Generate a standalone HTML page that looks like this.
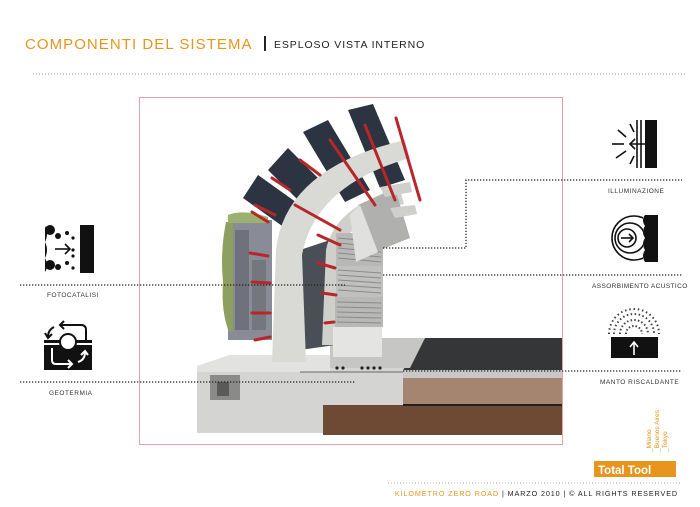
<!DOCTYPE html>
<html><head><meta charset="utf-8"><style>
html,body{margin:0;padding:0;background:#fff;}
body{width:700px;height:507px;overflow:hidden;position:relative;font-family:"Liberation Sans",sans-serif;}
svg{position:absolute;left:0;top:0}
</style></head><body>
<svg width="700" height="507" viewBox="0 0 700 507" xmlns="http://www.w3.org/2000/svg" font-family="Liberation Sans, sans-serif">
<defs><clipPath id="cl"><rect x="600" y="205" width="43" height="70"/></clipPath></defs>
<!-- header -->
<text x="25" y="49" font-size="15" fill="#e8951e" letter-spacing="1.05">COMPONENTI DEL SISTEMA</text>
<rect x="264" y="36" width="2" height="15" fill="#222"/>
<text x="274" y="48" font-size="10.5" fill="#222" letter-spacing="0.9">ESPLOSO VISTA INTERNO</text>
<line x1="33" y1="74" x2="686" y2="74" stroke="#999" stroke-width="1" stroke-dasharray="1,2"/>

<!-- frame -->
<rect x="139.5" y="97.5" width="423" height="347" fill="none" stroke="#e8a0a8" stroke-width="1"/>

<!-- ground layers -->
<rect x="323" y="405" width="239" height="30" fill="#6e4a35"/>
<rect x="403" y="378" width="159" height="27" fill="#a58470"/>
<rect x="403" y="370" width="159" height="8" fill="#c8c8c8"/>
<polygon points="425,338 562,338 562,370 403,370" fill="#343638"/>
<line x1="403" y1="405" x2="562" y2="405" stroke="#222" stroke-width="2"/>
<!-- concrete base -->
<polygon points="197,366 230,355 330,355 330,338 425,338 403,370 403,405 323,405 323,433 197,433" fill="#d4d5d2"/>
<polygon points="197,366 230,355 330,355 330,372 197,372" fill="#e2e3e0"/>
<polygon points="330,338 425,338 410,368 330,368" fill="#c6c7c4"/>
<rect x="210" y="375" width="30" height="25" fill="#8a8b88"/>
<rect x="217" y="382" width="12" height="14" fill="#5a5b58"/>
<g fill="#222"><circle cx="337" cy="368" r="1.6"/><circle cx="343" cy="368" r="1.6"/><circle cx="362" cy="368" r="1.6"/><circle cx="368" cy="368" r="1.6"/><circle cx="374" cy="368" r="1.6"/><circle cx="380" cy="368" r="1.6"/></g>
<line x1="300" y1="372" x2="403" y2="372" stroke="#666" stroke-width="1"/>

<!-- back wall with plants -->
<rect x="228" y="220" width="44" height="120" fill="#898b96"/>
<rect x="235" y="230" width="14" height="100" fill="#6f717c"/>
<rect x="252" y="260" width="14" height="70" fill="#75777f"/>
<path d="M226 222 q-6 30 -3 60 q-2 30 6 50 l4 0 l0 -110 z" fill="#8ea060"/>
<path d="M228 215 q15 -6 40 2 l0 6 l-40 0z" fill="#9cb070"/>

<!-- dark panels -->
<g fill="#2b3440">
<polygon points="243,198 258,175 300,205 285,228"/>
<polygon points="268,170 288,148 330,190 310,212"/>
<polygon points="303,132 328,120 370,190 345,202"/>
<polygon points="348,110 373,104 405,180 380,188"/>
</g>
<polygon points="300,250 330,240 335,345 300,350" fill="#4a4e56"/>
<path d="M322 345 L326 250 Q335 205 400 190 L404 204 Q350 215 340 255 L338 345 Z" fill="#cfd0cc"/>
<!-- louvers -->
<g>
<rect x="336" y="233" width="47" height="33" fill="#b8b9b6"/>
<rect x="336" y="266" width="47" height="31" fill="#c0c1be"/>
<rect x="335" y="297" width="48" height="30" fill="#b8b9b6"/>
<rect x="333" y="327" width="49" height="30" fill="#e4e5e2"/>
<g stroke="#8a8b88" stroke-width="1">
<line x1="338" y1="238" x2="381" y2="242"/><line x1="338" y1="243" x2="381" y2="247"/><line x1="338" y1="248" x2="381" y2="252"/><line x1="338" y1="253" x2="381" y2="257"/><line x1="338" y1="258" x2="381" y2="262"/>
<line x1="338" y1="270" x2="381" y2="273"/><line x1="338" y1="275" x2="381" y2="278"/><line x1="338" y1="280" x2="381" y2="283"/><line x1="338" y1="285" x2="381" y2="288"/><line x1="338" y1="290" x2="381" y2="293"/>
<line x1="337" y1="302" x2="381" y2="303"/><line x1="337" y1="307" x2="381" y2="308"/><line x1="337" y1="312" x2="381" y2="313"/><line x1="337" y1="317" x2="381" y2="318"/><line x1="337" y1="322" x2="381" y2="323"/>
</g>
<polygon points="358,205 395,188 410,238 375,252" fill="#b0b1ae"/>
<polygon points="350,215 360,205 378,252 356,262" fill="#e0e1de"/>
</g>
<!-- main arch -->
<path d="M272 362 L276 250 Q285 168 405 140 L410 158 Q315 185 302 255 L306 362 Z" fill="#d9dad6"/>
<g fill="#cfd0cc"><polygon points="380,187 410,182 412,192 385,197"/><polygon points="390,208 415,205 417,214 395,218"/></g>
<!-- red rods -->
<g stroke="#b8262a" stroke-width="3" stroke-linecap="round">
<line x1="396" y1="118" x2="420" y2="200"/>
<line x1="365" y1="125" x2="395" y2="200"/>
<line x1="330" y1="140" x2="375" y2="205"/>
<line x1="300" y1="160" x2="320" y2="175"/>
<line x1="272" y1="178" x2="290" y2="190"/>
<line x1="255" y1="205" x2="275" y2="215"/>
<line x1="252" y1="212" x2="268" y2="222"/>
<line x1="295" y1="205" x2="340" y2="230"/>
<line x1="318" y1="235" x2="340" y2="245"/>
<line x1="250" y1="253" x2="268" y2="256"/>
<line x1="252" y1="282" x2="270" y2="283"/>
<line x1="252" y1="313" x2="270" y2="313"/>
<line x1="255" y1="340" x2="270" y2="337"/>
<line x1="318" y1="263" x2="335" y2="268"/>
<line x1="322" y1="293" x2="336" y2="295"/>
<line x1="325" y1="323" x2="334" y2="322"/>
</g>

<!-- connector lines -->
<g stroke="#222" stroke-width="1.3" stroke-dasharray="1.3,1.7" fill="none">
<line x1="20" y1="285" x2="345" y2="285"/>
<line x1="20" y1="382" x2="355" y2="382"/>
<polyline points="383,248 466,248 466,180 682,180"/>
<line x1="383" y1="275" x2="682" y2="275"/>
<line x1="403" y1="371" x2="682" y2="371"/>
</g>

<!-- left icons -->
<g fill="#111">
<rect x="80" y="225" width="14" height="48"/>
<circle cx="50" cy="230" r="5"/><circle cx="58" cy="236" r="3"/><circle cx="67" cy="233" r="2"/><circle cx="73" cy="238" r="1.6"/>
<circle cx="50" cy="265" r="5"/><circle cx="58" cy="267" r="3"/><circle cx="67" cy="263" r="2"/><circle cx="73" cy="268" r="1.6"/>
<circle cx="73" cy="250" r="1.6"/><circle cx="73" cy="256" r="1.6"/>
<path d="M45 226 q4 8 0 16 q4 8 0 16 q4 8 0 14 z"/>
</g>
<g stroke="#111" stroke-width="1.6" fill="none"><line x1="55" y1="249" x2="70" y2="249"/><polyline points="65,244 70,249 65,254"/></g>
<text x="47" y="297" font-size="6.5" fill="#333" letter-spacing=".5">FOTOCATALISI</text>

<g>
<rect x="44" y="345" width="48" height="25" fill="#111"/>
<rect x="44" y="340" width="48" height="3" fill="#111"/>
<circle cx="68" cy="342" r="8" fill="#fff" stroke="#111" stroke-width="2"/>
<g stroke="#111" stroke-width="2" fill="none"><path d="M86 340 V330 Q86 325 81 325 H60"/><polyline points="64,321 60,325 64,329"/><path d="M54 327 Q48 330 48 337"/><polyline points="45,333 48,338 52,334"/></g>
<g stroke="#fff" stroke-width="2" fill="none"><path d="M52 348 V360 Q52 364 56 364 H72"/><polyline points="68,360 72,364 68,368"/><path d="M78 362 Q85 360 85 352"/><polyline points="81,355 85,351 88,355"/></g>
</g>
<text x="49" y="395" font-size="6.5" fill="#333" letter-spacing=".5">GEOTERMIA</text>

<!-- right icons -->
<rect x="645" y="120" width="12" height="48" fill="#111"/>
<g stroke="#111" stroke-width="1.6" fill="none">
<line x1="637" y1="120" x2="637" y2="168"/><line x1="641" y1="120" x2="641" y2="168"/>
<line x1="618" y1="130" x2="626" y2="137"/><line x1="612" y1="144" x2="624" y2="144"/><line x1="616" y1="158" x2="626" y2="151"/><line x1="630" y1="124" x2="634" y2="132"/><line x1="630" y1="164" x2="634" y2="156"/>
<line x1="630" y1="144" x2="648" y2="144"/><polyline points="635,139 630,144 635,149"/>
</g>
<text x="608" y="193" font-size="6.5" fill="#333" letter-spacing=".5">ILLUMINAZIONE</text>

<path d="M645 215 H658 V262 H645 q-4 -6 0 -12 q-4 -6 0 -12 q-4 -6 0 -12 q-4 -6 0 -11z" fill="#111"/>
<g stroke="#111" stroke-width="1.6" fill="none">
<circle cx="627" cy="238" r="9"/>
<g clip-path="url(#cl)"><circle cx="630" cy="238" r="15"/><circle cx="634" cy="238" r="22"/></g>
<line x1="621" y1="238" x2="633" y2="238"/><polyline points="629,234 633,238 629,242"/>
</g>
<text x="592" y="288" font-size="6.5" fill="#333" letter-spacing=".4">ASSORBIMENTO ACUSTICO</text>

<rect x="611" y="337" width="47" height="21" fill="#111"/>
<g fill="none" stroke="#444" stroke-width="2">
<path d="M626 334 a8 8 0 0 1 16 0" stroke-dasharray="1.5,2"/>
<path d="M620 334 a14 14 0 0 1 28 0" stroke-dasharray="1.5,2.2"/>
<path d="M614 334 a20 20 0 0 1 40 0" stroke-dasharray="1.5,2.5"/>
<path d="M609 334 a25 25 0 0 1 50 0" stroke-dasharray="1.5,2.8"/>
</g>
<g stroke="#fff" stroke-width="1.6" fill="none"><line x1="634" y1="355" x2="634" y2="343"/><polyline points="630,347 634,342 638,347"/></g>
<text x="600" y="384" font-size="6.5" fill="#333" letter-spacing=".5">MANTO RISCALDANTE</text>

<!-- footer -->
<g font-size="6.5" fill="#e8951e">
<text transform="translate(651,452) rotate(-90)">_Milano</text>
<text transform="translate(659,452) rotate(-90)">_Buenos Aires</text>
<text transform="translate(667,452) rotate(-90)">_Tokyo</text>
</g>
<rect x="594" y="461" width="82" height="16" fill="#e8951e"/>
<text x="598" y="474" font-size="11.5" font-weight="bold" fill="#fff">Total Tool</text>
<line x1="388" y1="483" x2="680" y2="483" stroke="#aaa" stroke-width="1" stroke-dasharray="1,2"/>
<text x="678" y="496" font-size="7.2" fill="#222" text-anchor="end" letter-spacing=".9"><tspan fill="#e8951e">KILOMETRO ZERO ROAD</tspan> | MARZO 2010 | © ALL RIGHTS RESERVED</text>
</svg>
</body></html>
